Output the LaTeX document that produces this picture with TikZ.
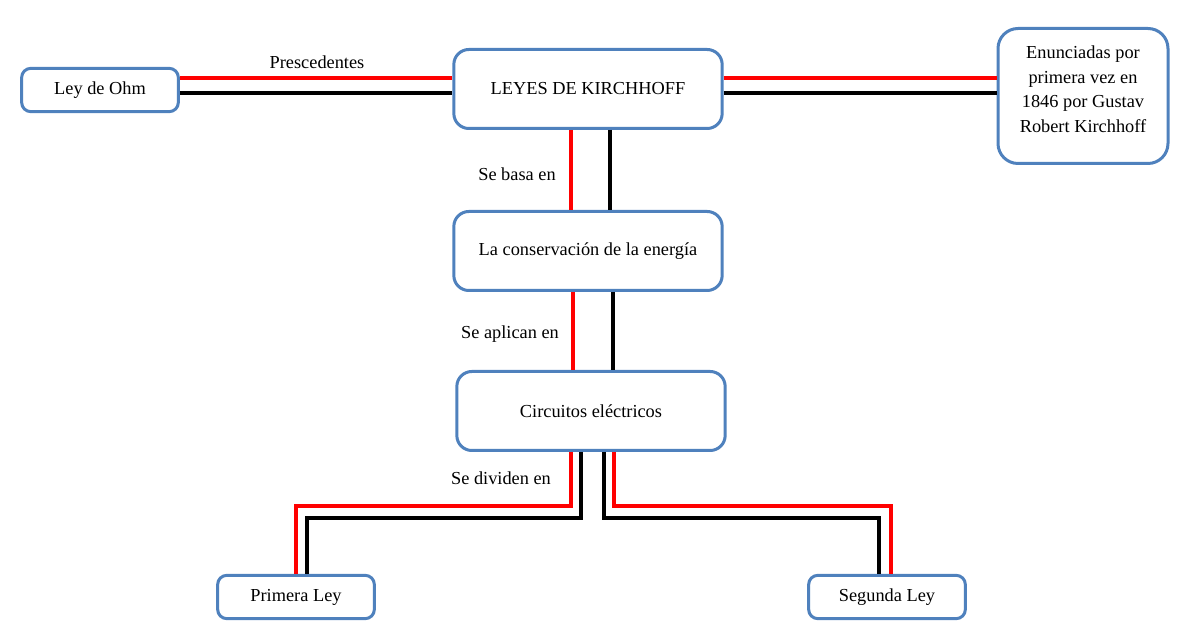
\documentclass[tikz,border=0pt]{standalone}
\usepackage{fontspec}
\setmainfont{Liberation Serif}
\definecolor{boxblue}{RGB}{79,129,189}

\begin{document}
\begin{tikzpicture}[x=.6pt, y=-.6pt]
	\useasboundingbox (0,0) rectangle (1201,638);
	\tikzstyle{every node}=[font=\fontsize{11}{14.7}\selectfont]
	
	% BOXES
	\tikzstyle{box}=[rectangle, draw=boxblue, line width=1.8pt, fill=white, align=center, inner sep=0pt, rounded corners=9pt]
	\tikzstyle{smallbox}=[box, minimum width=94pt, minimum height=26pt, rounded corners=5.5pt]
	\tikzstyle{bigbox}=[box, minimum width=161pt, minimum height=47.4pt]
	\path (100, 90) node[smallbox] (ohm) {Ley de Ohm};
	\path (588, 89) node[bigbox] (kirch) {LEYES DE KIRCHHOFF};
	\path (1083, 96) node[box, minimum width=102pt, minimum height=81pt, rounded corners=12pt] (enunc) {Enunciadas por\\ primera vez en\\ 1846 por Gustav\\ Robert Kirchhoff\\[-11pt] \strut};
	\path (588, 251) node[bigbox] (cons) {La conservación de la energía};
	\path (591, 411) node[bigbox] (circ) {Circuitos eléctricos};
	\path (296, 597) node[smallbox] (primera) {Primera Ley};
	\path (887, 597) node[smallbox] (segunda) {Segunda Ley};
	
	% LABELS
	\path (317, 62) node (lprec) {Prescedentes};
	\path (517, 174) node (lbasa) {Se basa en};
	\path (510, 334) node (laplic) {Se aplican en};
	\path (501, 478) node (ldiv) {Se dividen en};
	
	% WIRES
	\tikzstyle{redwire}=[red, line width=2.4pt]
	\tikzstyle{blackwire}=[black, line width=2.4pt]
	\draw[redwire] (ohm.east |- 0,78) -- (kirch.west |- 0,78);
	\draw[blackwire] (ohm.east |- 0,93) -- (kirch.west |- 0,93);
	\draw[redwire] (kirch.east |- 0,78) -- (enunc.west |- 0,78);
	\draw[blackwire] (kirch.east |- 0,93) -- (enunc.west |- 0,93);
	
	\draw[redwire] (kirch.south -| 571,0) -- (cons.north -| 571,0);
	\draw[blackwire] (kirch.south -| 610,0) -- (cons.north -| 610,0);
	\draw[redwire] (cons.south -| 573,0) -- (circ.north -| 573,0);
	\draw[blackwire] (cons.south -| 613,0) -- (circ.north -| 613,0);
	
	\draw[redwire] (circ.south -| 571,0) -- (571,506) -| (primera.north -| 296,0);
	\draw[blackwire] (circ.south -| 581,0) -- (581,518) -| (primera.north -| 307,0);
	\draw[blackwire] (circ.south -| 604,0) -- (604,518) -| (segunda.north -| 879,0);
	\draw[redwire] (circ.south -| 614,0) -- (614,506) -| (segunda.north -| 891,0);
\end{tikzpicture}
\end{document}
